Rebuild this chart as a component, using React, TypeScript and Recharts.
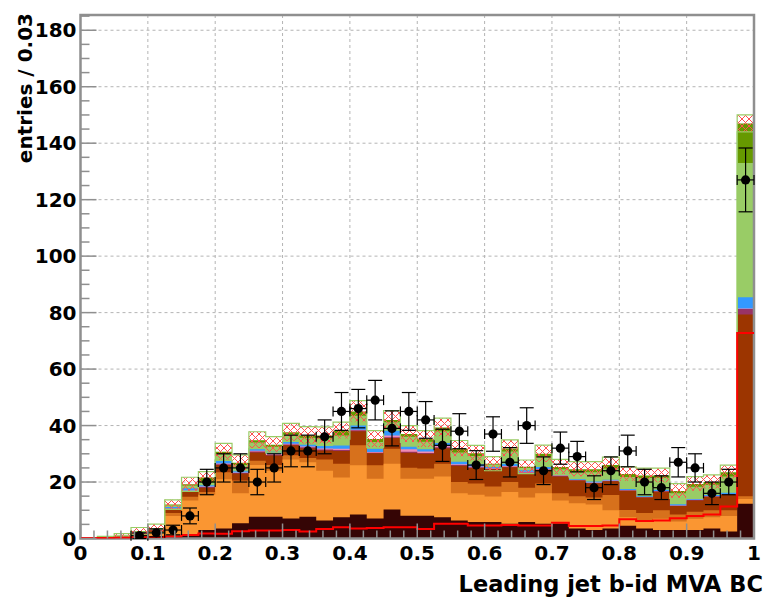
import React from 'react';
import {
  ComposedChart,
  Area,
  Line,
  Scatter,
  ErrorBar,
  XAxis,
  YAxis,
  CartesianGrid,
  ReferenceArea,
} from 'recharts';

// 40 bins of 0.025 between 0 and 1
const BIN_W = 0.025;
const N_BINS = 40;

// stack levels, cumulative from the bottom (THStack style), one value per bin
const DARK = [0, 0, 0.1, 0.2, 0.3, 0.5, 1.5, 3.0, 3.5, 5.4, 7.7, 7.7, 7.1, 7.7, 6.4, 7.5, 8.5, 7.1, 10.3, 8.1, 8.1, 7.5, 6.4, 5.8, 5.8, 5.2, 5.8, 5.2, 5.3, 3.5, 3.0, 3.5, 4.5, 3.5, 3.0, 3.0, 3.0, 3.5, 2.5, 12.3];
const ORANGE = [0, 0.2, 0.5, 1.2, 1.8, 8.0, 13.5, 15.5, 21.0, 16.0, 26.0, 24.0, 28.0, 27.0, 24.0, 21.6, 25.9, 21.2, 26.5, 21.2, 21.2, 22.0, 16.0, 15.5, 14.9, 16.5, 14.5, 16.0, 13.5, 12.5, 12.0, 10.0, 7.5, 6.5, 7.0, 6.0, 7.0, 7.5, 8.0, 14.0];
const DORANGE = [0, 0.25, 0.6, 1.5, 2.3, 9.0, 14.8, 16.5, 23.5, 20.5, 27.5, 26.0, 29.5, 28.5, 28.0, 26.5, 33.0, 25.9, 31.8, 25.1, 24.8, 26.5, 20.0, 19.5, 18.4, 20.0, 18.0, 19.5, 16.0, 15.0, 14.5, 15.4, 10.1, 9.0, 10.0, 8.5, 9.5, 10.0, 10.0, 15.0];
const BROWN = [0, 0.3, 0.7, 1.8, 2.9, 10.3, 16.6, 18.0, 26.0, 23.0, 30.5, 29.4, 33.0, 32.0, 31.2, 31.0, 38.0, 30.2, 35.6, 30.4, 30.0, 32.0, 25.8, 25.0, 24.5, 25.2, 23.2, 24.2, 22.0, 20.5, 19.6, 20.3, 16.9, 14.5, 16.6, 11.5, 13.5, 14.8, 15.5, 79.3];
const PURPLE = [0, 0.3, 0.7, 1.85, 2.95, 10.5, 16.8, 18.2, 26.3, 23.2, 30.8, 29.6, 33.3, 32.3, 31.5, 31.3, 38.3, 30.4, 35.9, 30.7, 30.3, 32.3, 26.0, 25.2, 24.7, 25.4, 23.4, 24.4, 22.2, 20.6, 19.7, 20.4, 17.0, 14.6, 16.7, 11.6, 13.6, 14.9, 15.6, 81.3];
const PINK = [0, 0.3, 0.75, 1.9, 3.0, 10.7, 17.0, 18.4, 26.6, 23.4, 31.1, 29.9, 33.6, 32.6, 31.9, 31.8, 38.5, 30.6, 36.5, 31.6, 30.8, 32.8, 26.3, 25.5, 24.9, 25.7, 23.6, 24.6, 22.4, 20.7, 19.8, 20.5, 17.1, 14.7, 16.8, 11.7, 13.7, 15.0, 15.7, 81.5];
const BLUE = [0, 0.35, 0.8, 2.0, 3.1, 11.2, 17.8, 18.9, 27.6, 24.2, 32.0, 30.7, 34.4, 33.5, 32.8, 32.9, 40.0, 31.8, 38.2, 32.5, 31.6, 33.8, 27.2, 26.3, 25.3, 26.5, 24.2, 25.3, 22.8, 21.0, 20.2, 20.8, 17.5, 15.0, 17.3, 12.1, 14.0, 15.4, 16.2, 85.4];
const LGREEN = [0, 0.4, 1.0, 2.4, 3.5, 11.8, 18.8, 19.9, 29.8, 26.0, 34.0, 32.5, 36.8, 35.7, 35.5, 36.5, 43.5, 34.2, 41.2, 36.0, 34.3, 38.0, 30.5, 29.2, 26.2, 30.8, 25.0, 29.0, 24.5, 23.5, 23.5, 24.8, 21.8, 21.4, 21.5, 16.0, 18.3, 19.0, 22.0, 133];
const TOTAL = [0, 0.45, 1.1, 2.6, 3.6, 12.0, 19.2, 21.6, 30.7, 26.8, 34.8, 33.2, 37.6, 36.5, 36.5, 38.2, 45.0, 35.2, 42.0, 37.0, 35.2, 39.3, 31.8, 30.2, 26.5, 31.9, 25.4, 30.0, 25.3, 24.5, 24.5, 26.0, 22.8, 22.3, 22.3, 16.8, 19.3, 20.0, 23.5, 147];
const MC_ERR = [0, 0.3, 0.6, 1.3, 1.5, 1.7, 2.5, 2.1, 3.0, 2.8, 3.0, 2.9, 3.2, 3.1, 3.0, 3.0, 3.8, 3.0, 3.3, 3.0, 3.0, 3.3, 2.9, 2.8, 2.5, 3.0, 2.4, 3.1, 2.7, 2.7, 2.7, 2.8, 2.6, 2.6, 2.6, 2.6, 2.6, 2.5, 2.5, 3.0];

// red overlay histogram (not stacked)
const SIGNAL = [0.2, 0.2, 0.3, 0.4, 0.5, 0.8, 1.2, 1.8, 1.7, 2.6, 2.8, 2.8, 3.0, 2.5, 3.4, 4.0, 3.5, 3.7, 4.0, 4.0, 3.4, 5.2, 5.2, 4.6, 4.6, 4.8, 4.6, 4.6, 5.6, 4.4, 4.4, 4.6, 6.8, 6.2, 6.4, 7.2, 8.0, 8.5, 11.3, 72.8];

// data points (null = empty bin) and their errors
const DATA = [null, null, null, 1, 2, 3, 8, 20, 25, 25, 20, 25, 31, 31, 36, 45, 46, 49, 39, 45, 42, 33, 38, 26, 37, 27, 40, 24, 32, 29, 18, 24, 31, 20, 18, 27, 25, 16, 20, 127];
const DATA_ERR = [0, 0, 0, 1, 1.4, 1.7, 2.8, 4.5, 5, 5, 4.5, 5, 5.6, 5.6, 6, 6.7, 6.8, 7, 6.2, 6.7, 6.5, 5.7, 6.2, 5.1, 6.1, 5.2, 6.3, 4.9, 5.7, 5.4, 4.2, 4.9, 5.6, 4.5, 4.2, 5.2, 5, 4, 4.5, 11.3];

const Y_MAX = 185.4;
const Y_TICKS = Array.from({ length: 38 }, (_, i) => i * 5);
const X_TICKS = Array.from({ length: 51 }, (_, i) => i / 50);
const X_GRID = [0.1, 0.2, 0.3, 0.4, 0.5, 0.6, 0.7, 0.8, 0.9];
const Y_GRID = [20, 40, 60, 80, 100, 120, 140, 160, 180];

const FONT = '"DejaVu Sans", Verdana, sans-serif';
const AXIS_GREY = '#8f8f8f';

// histogram rows at the bin edges, the last edge repeats the last bin
const rows = Array.from({ length: N_BINS + 1 }, (_, i) => {
  const b = Math.min(i, N_BINS - 1);
  return {
    x: i * BIN_W,
    dark: DARK[b],
    orange: ORANGE[b],
    dorange: DORANGE[b],
    brown: BROWN[b],
    purple: PURPLE[b],
    pink: PINK[b],
    blue: BLUE[b],
    lgreen: LGREEN[b],
    total: TOTAL[b],
    band: [TOTAL[b] - MC_ERR[b], TOTAL[b] + MC_ERR[b]],
    sig: SIGNAL[b],
  };
});

const points = DATA.map((v, i) =>
  v == null ? null : { x: (i + 0.5) * BIN_W, y: v, ey: DATA_ERR[i], ex: BIN_W / 2 }
).filter(Boolean) as { x: number; y: number; ey: number; ex: number }[];

const LAYERS = [
  { key: 'total', color: '#669900' },
  { key: 'lgreen', color: '#99cc66' },
  { key: 'blue', color: '#3399ff' },
  { key: 'pink', color: '#f08cb4' },
  { key: 'purple', color: '#993366' },
  { key: 'brown', color: '#9c3500' },
  { key: 'dorange', color: '#d7711c' },
  { key: 'orange', color: '#fa9632' },
  { key: 'dark', color: '#350505' },
];

const YTick = ({ x, y, payload }: any) => {
  const v = payload.value;
  const major = v % 20 === 0;
  return (
    <g>
      <line x1={x} x2={x + (major ? 16 : 9)} y1={y} y2={y} stroke={AXIS_GREY} strokeWidth={1.5} />
      {major && (
        <text x={x - 4} y={y} dy="0.36em" textAnchor="end" fontFamily={FONT} fontWeight="bold" fontSize={20} fill="#000">
          {v}
        </text>
      )}
    </g>
  );
};

const XTick = ({ x, y, payload }: any) => {
  const v = payload.value;
  const major = Math.abs(v * 10 - Math.round(v * 10)) < 1e-6;
  const label = v === 0 ? '0' : v === 1 ? '1' : v.toFixed(1);
  return (
    <g>
      <line x1={x} x2={x} y1={y} y2={y - (major ? 15 : 8)} stroke={AXIS_GREY} strokeWidth={1.5} />
      {major && (
        <text x={x} y={y + 21.5} textAnchor="middle" fontFamily={FONT} fontWeight="bold" fontSize={20} fill="#000">
          {label}
        </text>
      )}
    </g>
  );
};

const Dot = (p: any) => <circle cx={p.cx} cy={p.cy} r={4.6} fill="#000" />;

export default function App() {
  return (
    <div style={{ position: 'absolute', left: 0, top: 0, width: 769, height: 597, background: '#fff' }}>
      <ComposedChart width={769} height={597} data={rows} margin={{ top: 15, right: 15, bottom: 0, left: 0 }}>
        <defs>
          <pattern id="mcHatch" width="7" height="7" patternUnits="userSpaceOnUse">
            <path d="M0,0 L7,7 M7,0 L0,7" stroke="#ff5050" strokeWidth={1} />
          </pattern>
        </defs>
        <CartesianGrid
          verticalValues={X_GRID}
          horizontalValues={Y_GRID}
          stroke="#b4b4b4"
          strokeDasharray="3 3"
        />
        <XAxis
          dataKey="x"
          type="number"
          domain={[0, 1]}
          ticks={X_TICKS}
          interval={0}
          height={58.5}
          tickSize={0}
          tickMargin={0}
          tick={<XTick />}
          axisLine={false}
          allowDataOverflow
        />
        <YAxis
          type="number"
          domain={[0, Y_MAX]}
          ticks={Y_TICKS}
          interval={0}
          width={80.5}
          tickSize={0}
          tickMargin={0}
          tick={<YTick />}
          axisLine={false}
          allowDataOverflow
        />
        {LAYERS.map((l) => (
          <Area
            key={l.key}
            dataKey={l.key}
            type="stepAfter"
            stroke="none"
            fill={l.color}
            fillOpacity={1}
            isAnimationActive={false}
          />
        ))}
        <Area
          dataKey="band"
          type="stepAfter"
          stroke="#99cc66"
          strokeWidth={1.2}
          fill="url(#mcHatch)"
          fillOpacity={1}
          isAnimationActive={false}
        />
        <Line dataKey="sig" type="stepAfter" stroke="#ff0000" strokeWidth={2} dot={false} isAnimationActive={false} />
        <Scatter data={points} dataKey="y" shape={<Dot />} isAnimationActive={false}>
          <ErrorBar dataKey="ey" direction="y" width={7} stroke="#000" strokeWidth={1.2} />
          <ErrorBar dataKey="ex" direction="x" width={5} stroke="#000" strokeWidth={1.2} />
        </Scatter>
        <ReferenceArea x1={0} x2={1} y1={0} y2={Y_MAX} fill="none" fillOpacity={0} stroke={AXIS_GREY} strokeWidth={2.5} />
      </ComposedChart>
      <svg width={769} height={597} style={{ position: 'absolute', left: 0, top: 0, pointerEvents: 'none' }}>
        <text
          transform="translate(32,13) rotate(-90)"
          textAnchor="end"
          fontFamily={FONT}
          fontWeight="bold"
          fontSize={20}
          fill="#000"
        >
          entries / 0.03
        </text>
        <text x={763} y={592} textAnchor="end" fontFamily={FONT} fontWeight="bold" fontSize={22.5} fill="#000">
          Leading jet b-id MVA BC
        </text>
      </svg>
    </div>
  );
}
